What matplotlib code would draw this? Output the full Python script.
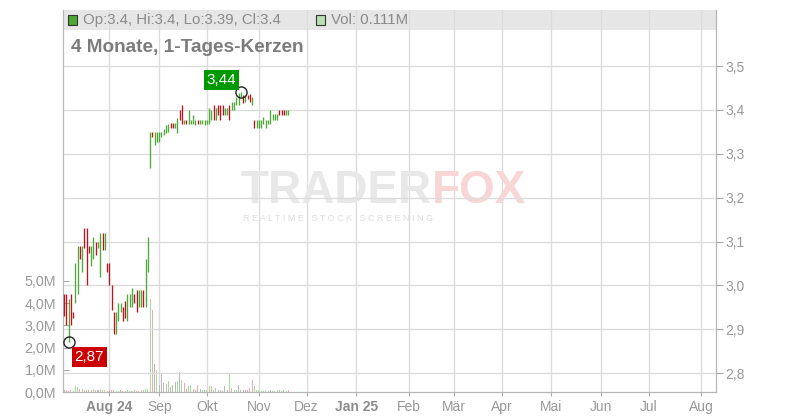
import matplotlib.pyplot as plt
from matplotlib.patches import Rectangle
import numpy as np
import pandas as pd

plt.rcParams['font.family'] = ['Liberation Sans', 'DejaVu Sans']

# daily candles, first trading day 2024-07-04
first_day = '2024-07-04'
highs = [2.98, 2.98, 2.97, 2.98, 2.94, 3.05, 3.09, 3.09, 3.09, 3.13, 3.13, 3.09, 3.09,
         3.11, 3.10, 3.10, 3.12, 3.12, 3.12, 3.05, 3.05, 3.00, 2.94, 2.94, 2.96, 2.96,
         2.95, 2.965, 2.98, 2.98, 2.995, 2.98, 2.99, 2.99, 2.99, 2.99, 3.06, 3.11,
         3.35, 3.35, 3.35, 3.35, 3.35, 3.35, 3.356, 3.365, 3.369, 3.371, 3.371, 3.371,
         3.381, 3.40, 3.412, 3.378, 3.378, 3.40, 3.378, 3.388, 3.378, 3.378, 3.378, 3.378,
         3.378, 3.378, 3.405, 3.40, 3.412, 3.404, 3.412, 3.412, 3.412, 3.404, 3.404, 3.412,
         3.419, 3.419, 3.43, 3.438, 3.44, 3.435, 3.434, 3.435, 3.436, 3.43, 3.378, 3.378,
         3.378, 3.378, 3.384, 3.378, 3.378, 3.40, 3.391, 3.391, 3.391, 3.40, 3.40, 3.40,
         3.40, 3.40]
lows = [2.93, 2.91, 2.87, 2.91, 2.925, 2.96, 2.98, 3.06, 3.03, 3.085, 3.00, 3.075, 3.045,
        3.06, 3.07, 3.085, 3.02, 3.08, 3.08, 3.03, 3.00, 2.945, 2.89, 2.89, 2.92, 2.94,
        2.92, 2.925, 2.92, 2.95, 2.95, 2.96, 2.94, 2.95, 2.95, 2.95, 2.95, 3.03,
        3.268, 3.339, 3.32, 3.327, 3.327, 3.339, 3.343, 3.347, 3.35, 3.36, 3.36, 3.36,
        3.348, 3.378, 3.369, 3.369, 3.369, 3.369, 3.369, 3.369, 3.365, 3.369, 3.369, 3.369,
        3.365, 3.367, 3.369, 3.378, 3.378, 3.378, 3.388, 3.378, 3.388, 3.388, 3.388, 3.378,
        3.40, 3.40, 3.411, 3.411, 3.43, 3.415, 3.419, 3.426, 3.419, 3.411, 3.36, 3.36,
        3.36, 3.36, 3.369, 3.36, 3.369, 3.369, 3.377, 3.377, 3.377, 3.388, 3.388, 3.388,
        3.388, 3.388]
direction = ("RRGRRGGRGRRRGGRGGRGRRRRGGGRRGGGRRGGRGG"
             "GRGGGGGGGRRGGRRGRGGGGRGGGGGGRGRRRGGRGGGGGRGRRGRGGGGGGGGGGRRRGG")
volumes = [0.08, 0.10, 0.06, 0.08, 0.05, 0.26, 0.22, 0.12, 0.15, 0.08, 0.10, 0.10, 0.08,
           0.15, 0.10, 0.08, 0.12, 0.10, 0.08, 0.06, 0.08, 0.10, 0.08, 0.06, 0.06, 0.08,
           0.06, 0.06, 0.08, 0.05, 0.06, 0.08, 0.06, 0.06, 0.10, 0.08, 0.12, 0.15,
           4.2, 3.7, 1.25, 0.98, 0.30, 0.83, 0.41, 0.35, 0.50, 0.23, 0.33, 0.45,
           0.50, 0.90, 0.56, 0.41, 0.15, 0.26, 0.30, 0.15, 0.11, 0.30, 0.15, 0.11,
           0.11, 0.11, 0.26, 0.26, 0.08, 0.20, 0.11, 0.08, 0.05, 0.26, 0.08, 0.83,
           0.20, 0.08, 0.08, 0.30, 0.11, 0.08, 0.08, 0.11, 0.20, 0.56, 0.26, 0.11,
           0.11, 0.05, 0.05, 0.11, 0.05, 0.11, 0.05, 0.05, 0.08, 0.11, 0.05, 0.08,
           0.05, 0.08]
vol_color = ("RRNRRGGRGRNRGGRNGRGRRRNGGNRRGNGRRNGRGG"
             "GRNGNNNNGNNNGNGRNGGRNRNGNGGRNGNNNNNGRGGNNNNNRRGGGNNGGNNNGNGNG")

month_labels = ['Aug 24', 'Sep', 'Okt', 'Nov', 'Dez', 'Jan 25', 'Feb', 'Mär', 'Apr',
                'Mai', 'Jun', 'Jul', 'Aug']
price_ticks = [2.8, 2.9, 3.0, 3.1, 3.2, 3.3, 3.4, 3.5]
vol_ticks = [0, 1, 2, 3, 4, 5]

candle_col = {'G': '#4ea83a', 'R': '#c0121c'}
volume_col = {'G': '#a6dba0', 'R': '#f4a7ae', 'N': '#b8b8b8'}
grid_col = '#dcdcdc'
text_col = '#999999'

days = pd.bdate_range(first_day, '2025-08-31')
idx = np.arange(len(highs))
month_pos = []
for m in pd.period_range('2024-08', '2025-08', freq='M'):
    month_pos.append(np.where(days.to_period('M') == m)[0][0])

fig = plt.figure(figsize=(8, 4.2), dpi=100)
ax_v = fig.add_axes([63/800, 28/420, 653/800, 382/420])
ax_p = ax_v.twinx()

# header bar and watermark sit under the grid
ax_v.add_patch(Rectangle((0, 1 - 20/382), 1, 20/382, transform=ax_v.transAxes,
                         facecolor='#e6e6e6', edgecolor='none', zorder=0.5))
ax_v.text(432/800, 1 - 191/420, 'TRADER', transform=fig.transFigure, ha='right', va='center',
          fontsize=33, fontweight='bold', color='#e8e8e8', zorder=0.6)
ax_v.text(432/800, 1 - 191/420, 'FOX', transform=fig.transFigure, ha='left', va='center',
          fontsize=33, fontweight='bold', color='#f9d6d6', zorder=0.6)
ax_v.text(338/800, 1 - 218/420, 'R E A L T I M E   S T O C K   S C R E E N I N G',
          transform=fig.transFigure, ha='center', va='center', fontsize=6.5,
          color='#dedede', zorder=0.6)

ax_v.bar(idx, volumes, width=0.45, color=[volume_col[c] for c in vol_color], zorder=2)
ax_v.set_ylim(0, 17.2)
ax_v.set_xlim(-0.44, 287.6)
ax_v.set_xticks(month_pos)
ax_v.set_xticklabels(month_labels)
ax_v.grid(axis='x', color=grid_col, lw=1, zorder=1)
ax_v.set_axisbelow(True)
ax_v.set_yticks(vol_ticks)
ax_v.set_yticklabels([f'{v:.1f}M'.replace('.', ',') for v in vol_ticks])
ax_v.tick_params(axis='y', direction='in', length=4, color='#aaaaaa', labelcolor=text_col,
                 labelsize=10.3, pad=5)
ax_v.tick_params(axis='x', direction='out', length=3, color='#aaaaaa', labelcolor=text_col,
                 labelsize=10, pad=3)
for lab in ax_v.get_xticklabels():
    if ' ' in lab.get_text():
        lab.set_fontweight('bold')
        lab.set_color('#8c8c8c')

ax_p.vlines(idx, lows, highs, colors=[candle_col[c] for c in direction], lw=0.95, zorder=3)
ax_p.set_ylim(2.757, 3.628)
ax_p.set_yticks(price_ticks)
ax_p.set_yticklabels([f'{v:.1f}'.replace('.', ',') for v in price_ticks])
ax_p.grid(axis='y', color=grid_col, lw=1, zorder=0)
ax_p.tick_params(axis='y', direction='out', length=5, color='#aaaaaa', labelcolor=text_col,
                 labelsize=10, pad=2)

for a in (ax_v, ax_p):
    a.spines['top'].set_visible(False)
    for s in ('left', 'right', 'bottom'):
        a.spines[s].set_color('#b5b5b5')

# min / max markers
i_lo = int(np.argmin(lows))
i_hi = int(np.argmax(highs))
ax_p.plot(i_lo, lows[i_lo], 'o', ms=8, mfc='none', mec='#222222', mew=1, zorder=4)
ax_p.plot(i_hi, highs[i_hi], 'o', ms=8, mfc='none', mec='#222222', mew=1, zorder=4)
ax_p.annotate(f'{lows[i_lo]:.2f}'.replace('.', ','), (i_lo, lows[i_lo]),
              xytext=(15, -10.5), textcoords='offset points', ha='center', va='center',
              color='white', fontsize=11,
              bbox=dict(boxstyle='square,pad=0.18', fc='#cc0000', ec='none'), zorder=5)
ax_p.annotate(f'{highs[i_hi]:.2f}'.replace('.', ','), (i_hi, highs[i_hi]),
              xytext=(-14, 9), textcoords='offset points', ha='center', va='center',
              color='white', fontsize=11,
              bbox=dict(boxstyle='square,pad=0.18', fc='#009900', ec='none'), zorder=5)

# header texts
fig.patches.append(Rectangle((68/800, 1 - 25/420), 9/800, 10/420, transform=fig.transFigure,
                             facecolor='#4aa832', edgecolor='#333333', lw=0.8, figure=fig))
fig.text(83/800, 1 - 20/420, 'Op:3.4, Hi:3.4, Lo:3.39, Cl:3.4', ha='left', va='center',
         fontsize=10.8, color='#8a8a8a')
fig.patches.append(Rectangle((316/800, 1 - 25/420), 9/800, 10/420, transform=fig.transFigure,
                             facecolor='#b6e0b0', edgecolor='#333333', lw=0.8, figure=fig))
fig.text(331/800, 1 - 20/420, 'Vol: 0.111M', ha='left', va='center', fontsize=10.8,
         color='#8a8a8a')
fig.text(71/800, 1 - 47/420, '4 Monate, 1-Tages-Kerzen', ha='left', va='center',
         fontsize=13.7, fontweight='bold', color='#7c7c7c')

fig.savefig('out.png', dpi=100)
